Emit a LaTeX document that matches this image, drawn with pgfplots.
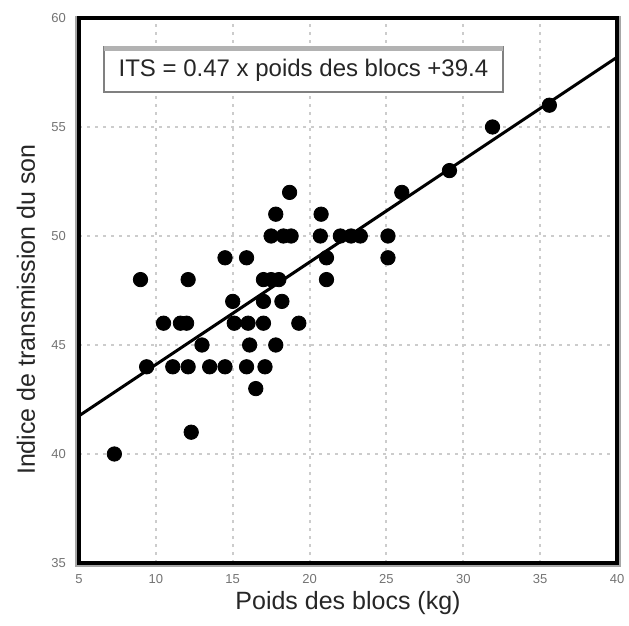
\documentclass[border=0pt]{standalone}
\usepackage{fontspec}
\setmainfont{Liberation Sans}
\usepackage{pgfplots}
\pgfplotsset{compat=1.18}
\begin{document}
\begin{tikzpicture}
\begin{axis}[
  name=ax,
  scale only axis,
  width=269pt, height=272.5pt,
  xmin=5, xmax=40, ymin=35, ymax=60,
  xtick={5,10,...,40}, ytick={35,40,...,60},
  major tick length=0pt,
  grid=major,
  major grid style={black!20, line width=1pt, dash pattern=on 1.5pt off 2.5pt},
  axis line style={black, line width=1.6pt},
  tick label style={font=\fontsize{6.5}{7}\selectfont, text=black!55},
  /pgf/number format/assume math mode=true,
  xticklabel style={yshift=-2pt},
  yticklabel style={xshift=-3pt},
  xlabel={Poids des blocs (kg)},
  ylabel={Indice de transmission du son},
  label style={font=\fontsize{12.5}{14}\selectfont, text=black!85},
  xlabel style={at={(axis description cs:0.5,-0.0734)}, anchor=center},
  ylabel style={at={(axis description cs:-0.0985,0.465)}, anchor=center},
]
\addplot[only marks, mark=*, mark size=3.6pt, black] coordinates {
(7.3,40) (12.3,41) (16.5,43)
(9.4,44) (11.1,44) (12.1,44) (13.5,44) (14.5,44) (15.9,44) (17.1,44)
(13.0,45) (16.1,45) (17.8,45)
(10.5,46) (11.6,46) (12.0,46) (15.1,46) (16.0,46) (17.0,46) (19.3,46)
(15.0,47) (17.0,47) (18.2,47)
(9.0,48) (12.1,48) (17.0,48) (17.5,48) (18.0,48) (21.1,48)
(14.5,49) (15.9,49) (21.1,49) (25.1,49)
(17.5,50) (18.3,50) (18.8,50) (20.7,50) (22.0,50) (22.7,50) (23.3,50) (25.1,50)
(17.8,51) (20.75,51)
(18.7,52) (26.0,52)
(29.1,53) (31.9,55) (35.6,56)
};
\addplot[black, line width=1.5pt] coordinates {(5,41.75) (40,58.2)};
\draw[fill=white, draw=black!50, line width=1pt] (axis cs:6.63,56.6) rectangle (axis cs:32.6,58.67);
\draw[black!30, line width=2.5pt] (axis cs:6.63,58.6) -- (axis cs:32.6,58.6);
\node[font=\fontsize{12}{14}\selectfont, text=black!85] at (axis cs:19.6,57.6) {ITS = 0.47 x poids des blocs +39.4};
\end{axis}
\draw[black!35, line width=1pt] ([xshift=-1.3pt,yshift=0.8pt]ax.north west) -- ([xshift=-1.3pt,yshift=-1.3pt]ax.south west) -- ([xshift=1.3pt,yshift=-1.3pt]ax.south east) -- ([xshift=1.3pt,yshift=0.8pt]ax.north east);
\pgfresetboundingbox
\path[use as bounding box] ([shift={(-39.5pt,-31pt)}]ax.south west) rectangle ([shift={(6pt,9pt)}]ax.north east);
\end{tikzpicture}
\end{document}
